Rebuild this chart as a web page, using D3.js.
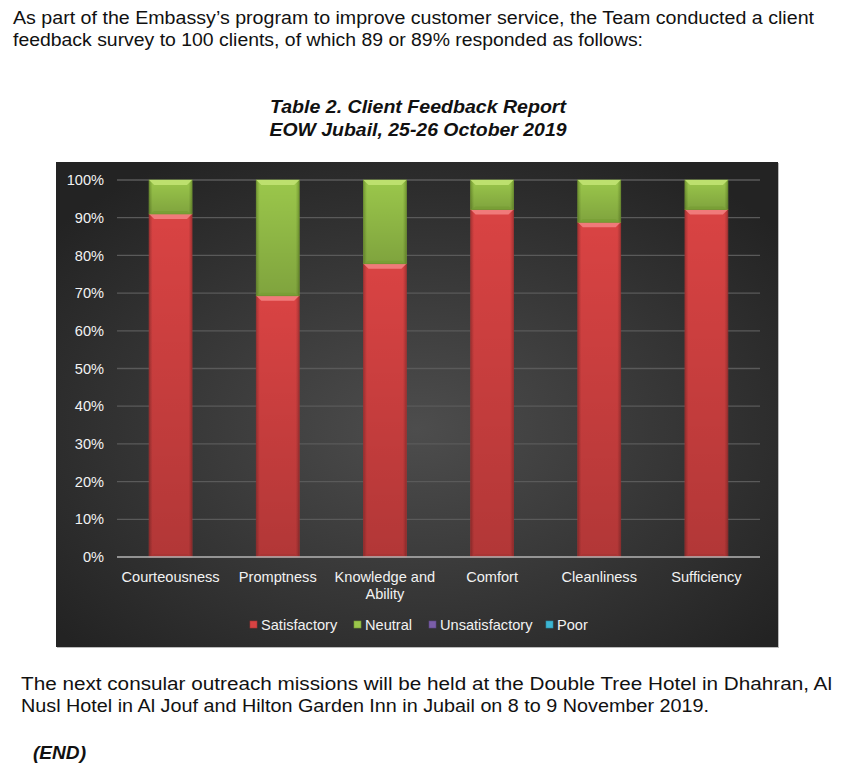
<!DOCTYPE html>
<html><head><meta charset="utf-8">
<script src="https://cdn.jsdelivr.net/npm/d3@7"></script>
<style>body{margin:0;background:#fff}svg{display:block}</style>
</head><body>
<svg id="c" width="860" height="781"></svg>
<script>
const categories = ["Courteousness","Promptness","Knowledge and\nAbility","Comfort","Cleanliness","Sufficiency"];
const seriesNames = ["Satisfactory","Neutral","Unsatisfactory","Poor"];
const satisfactory = [91, 69.3, 77.8, 92.2, 88.8, 92.2];
const neutral = [9, 30.7, 22.2, 7.8, 11.2, 7.8];
const unsatisfactory = [0,0,0,0,0,0];
const poor = [0,0,0,0,0,0];
const yTicks = [0,10,20,30,40,50,60,70,80,90,100];
const colors = ["#d94343","#9bc74b","#7b5ea8","#3db6d3"];
const darkColors = ["#a83434","#779d35","#5d4585","#2a8ea8"];
const lightColors = ["#f07a7a","#bde06e","#9f86c8","#7dd6ea"];

const svg = d3.select("#c");
const defs = svg.append("defs");
const F = "'Liberation Sans', Arial, sans-serif";

// Body text
const body = [
  {t:"As part of the Embassy\u2019s program to improve customer service, the Team conducted a client", x:13, y:24, w:801},
  {t:"feedback survey to 100 clients, of which 89 or 89% responded as follows:", x:13, y:46, w:630},
  {t:"The next consular outreach missions will be held at the Double Tree Hotel in Dhahran, Al", x:21, y:690, w:811},
  {t:"Nusl Hotel in Al Jouf and Hilton Garden Inn in Jubail on 8 to 9 November 2019.", x:21, y:712, w:688}
];
body.forEach(b=>{
  svg.append("text").attr("x",b.x).attr("y",b.y).attr("font-family",F).attr("font-size",17.5)
    .attr("fill","#111").attr("textLength",b.w).attr("lengthAdjust","spacingAndGlyphs").text(b.t);
});
svg.append("text").attr("x",33).attr("y",759).attr("font-family",F).attr("font-size",17.5)
  .attr("font-weight","bold").attr("font-style","italic").attr("fill","#111")
  .attr("textLength",53).attr("lengthAdjust","spacingAndGlyphs").text("(END)");

// Title
[["Table 2. Client Feedback Report",113,296],["EOW Jubail, 25-26 October 2019",136,297]].forEach(d=>{
  svg.append("text").attr("x",418).attr("y",d[1]).attr("text-anchor","middle").attr("font-family",F)
    .attr("font-size",18.5).attr("font-weight","bold").attr("font-style","italic").attr("fill","#111")
    .attr("textLength",d[2]).attr("lengthAdjust","spacingAndGlyphs").text(d[0]);
});

// Panel
const bg = defs.append("radialGradient").attr("id","bg").attr("cx","50%").attr("cy","55%").attr("r","65%");
bg.append("stop").attr("offset","0%").attr("stop-color","#4d4d4d");
bg.append("stop").attr("offset","100%").attr("stop-color","#232323");
const P = {x:56,y:162,w:722,h:485};
svg.append("rect").attr("x",P.x+1).attr("y",P.y+1).attr("width",P.w).attr("height",P.h).attr("fill","#bbb");
svg.append("rect").attr("x",P.x).attr("y",P.y).attr("width",P.w).attr("height",P.h).attr("fill","url(#bg)");

const x = d3.scaleBand().domain(categories).range([117,760]).paddingInner(0.6).paddingOuter(0.3);
const y = d3.scaleLinear().domain([0,100]).range([557,180]);

// Gridlines
svg.append("g").selectAll("line").data(yTicks.filter(t=>t>0)).join("line")
  .attr("x1",117).attr("x2",760).attr("y1",d=>y(d)).attr("y2",d=>y(d))
  .attr("stroke","#5a5a5a").attr("stroke-width",1.3);

// Y axis
const yAxis = svg.append("g").attr("transform","translate(117,0)")
  .call(d3.axisLeft(y).tickValues(yTicks).tickFormat(d=>d+"%").tickSize(0).tickPadding(13));
yAxis.select(".domain").remove();
yAxis.attr("font-size",null).attr("font-family",null);
yAxis.selectAll("text").attr("font-family",F).attr("font-size",14.6).attr("fill","#f2f2f2");

// Stacked data
const seriesVals = [satisfactory, neutral, unsatisfactory, poor];
const rows = categories.map((c,i)=>{const o={cat:c}; seriesNames.forEach((s,j)=>o[s]=seriesVals[j][i]); return o;});
const stack = d3.stack().keys(seriesNames)(rows);

colors.forEach((c,i)=>{
  const g = defs.append("linearGradient").attr("id","g"+i).attr("x1","0").attr("x2","1").attr("y1","0").attr("y2","0");
  g.append("stop").attr("offset","0%").attr("stop-color",darkColors[i]);
  g.append("stop").attr("offset","8%").attr("stop-color",c);
  g.append("stop").attr("offset","92%").attr("stop-color",c);
  g.append("stop").attr("offset","100%").attr("stop-color",darkColors[i]);
  const v = defs.append("linearGradient").attr("id","v"+i).attr("x1","0").attr("x2","0").attr("y1","0").attr("y2","1");
  v.append("stop").attr("offset","0%").attr("stop-color","#000").attr("stop-opacity",0);
  v.append("stop").attr("offset","100%").attr("stop-color","#000").attr("stop-opacity",0.18);
});

const bw = x.bandwidth();
stack.forEach((s,si)=>{
  const g = svg.append("g");
  s.forEach(d=>{
    const h = y(d[0]) - y(d[1]);
    if (h <= 0) return;
    const x0 = x(d.data.cat), y0 = y(d[1]);
    g.append("rect").attr("x",x0).attr("y",y0).attr("width",bw).attr("height",h)
      .attr("fill","url(#g"+si+")").attr("stroke",darkColors[si]).attr("stroke-width",0.8);
    g.append("rect").attr("x",x0).attr("y",y0).attr("width",bw).attr("height",h).attr("fill","url(#v"+si+")");
    const b = 5;
    g.append("path").attr("d",`M${x0},${y0}L${x0+bw},${y0}L${x0+bw-b},${y0+b}L${x0+b},${y0+b}Z`)
      .attr("fill",lightColors[si]);
    g.append("path").attr("d",`M${x0},${y0+h}L${x0+bw},${y0+h}L${x0+bw-b},${y0+h-3}L${x0+b},${y0+h-3}Z`)
      .attr("fill",darkColors[si]).attr("opacity",0.8);
  });
});

// Baseline
svg.append("line").attr("x1",117).attr("x2",760).attr("y1",y(0)).attr("y2",y(0))
  .attr("stroke","#b5b5b5").attr("stroke-width",1.5);

// X axis labels
const xg = svg.append("g");
categories.forEach(c=>{
  const lines = c.split("\n");
  const t = xg.append("text").attr("x",x(c)+bw/2).attr("y",582).attr("text-anchor","middle")
    .attr("font-family",F).attr("font-size",14.6).attr("fill","#f2f2f2");
  lines.forEach((l,i)=>t.append("tspan").attr("x",x(c)+bw/2).attr("dy",i?17:0).text(l));
});

// Legend
const legX = [250,354,429,546];
seriesNames.forEach((s,i)=>{
  svg.append("rect").attr("x",legX[i]).attr("y",621).attr("width",7).attr("height",7)
    .attr("fill",colors[i]).attr("stroke",darkColors[i]).attr("stroke-width",0.6);
  svg.append("text").attr("x",legX[i]+11).attr("y",630).attr("font-family",F).attr("font-size",14.6)
    .attr("fill","#f2f2f2").text(s);
});
</script>
</body></html>
